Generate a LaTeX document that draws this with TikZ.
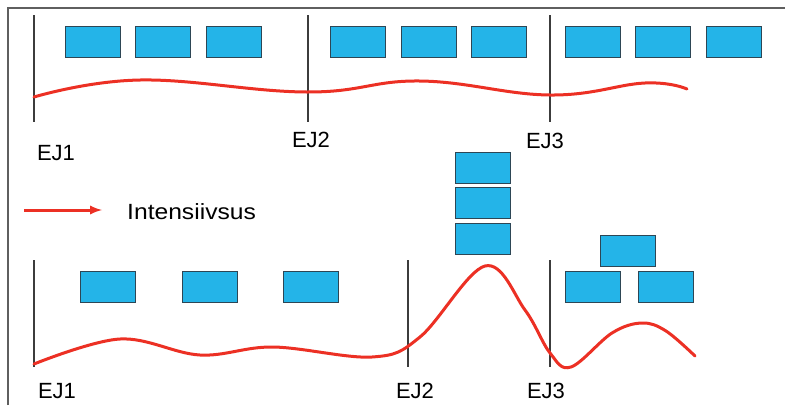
\documentclass[tikz,border=0pt]{standalone}
\usepackage{fontspec}
\setmainfont{Liberation Sans}
\usetikzlibrary{positioning, arrows}
\definecolor{boxblue}{RGB}{36,180,232}
\definecolor{boxedge}{RGB}{45,70,85}
\definecolor{curvered}{RGB}{236,48,36}
\definecolor{framegray}{RGB}{95,95,95}
\definecolor{markgray}{RGB}{60,60,60}
\tikzset{>=latex}
\tikzset{
  block/.style={draw=boxedge, fill=boxblue, line width=0.9pt,
    minimum width=55pt, minimum height=31pt, inner sep=0pt},
  divider/.style={markgray, line width=1.2pt},
  intensity/.style={curvered, line width=3pt, line cap=round},
  ejtext/.style={font=\fontsize{22}{24}\selectfont, inner sep=0pt}
}

\begin{document}
\begin{tikzpicture}[x=1pt, y=-1pt]
  \useasboundingbox (0,0) rectangle (785,405);
  % frame
  \draw[framegray, line width=1.5pt] (8,405) -- (8,8) -- (785,8);

  % upper part
  \foreach \x in {34, 308, 550}
    \draw[divider] (\x,15) -- (\x,122);
  \foreach \x [count=\i] in {92.5, 163, 233.5, 358, 428.5, 498.5, 592.5, 663, 733.5}
    \node[block] (top\i) at (\x,41.5) {};
  \draw[intensity] plot[smooth, tension=0.7] coordinates {(34,97) (140,80)
    (307,92) (420,81) (550,95) (645,83) (687,89)};
  \node[ejtext] (ej1a) at (56,153) {EJ1};
  \node[ejtext] (ej2a) at (311,140) {EJ2};
  \node[ejtext] (ej3a) at (545,141) {EJ3};

  % legend
  \coordinate (legstart) at (24,210);
  \coordinate (legend) at (102,210);
  \draw[->, curvered, line width=3pt] (legstart) -- (legend);
  \node[ejtext, anchor=west] (legtext) at (127,212)
    {\scalebox{1.12}[1]{Intensiivsus}};

  % lower part
  \foreach \x in {34, 408, 550}
    \draw[divider] (\x,260) -- (\x,367);
  \foreach \x [count=\i] in {107.5, 209.5, 311}
    \node[block] (low\i) at (\x,286.5) {};
  \foreach \y [count=\i] in {167.5, 203, 238.5}
    \node[block] (stack\i) at (483,\y) {};
  \node[block] (pyrtop) at (627.5,251) {};
  \node[block] (pyrleft) at (592.5,287) {};
  \node[block] (pyrright) at (665.5,287) {};
  \draw[intensity] plot[smooth, tension=0.6] coordinates {(34,364) (120,339)
    (200,355) (273,347) (372,357) (420,337) (485,266) (525,310)
    (550,353) (571,367) (612,333) (642,323) (666,331) (695,356)};
  \node[ejtext] (ej1b) at (57,391) {EJ1};
  \node[ejtext] (ej2b) at (415,391) {EJ2};
  \node[ejtext] (ej3b) at (546,391) {EJ3};
\end{tikzpicture}
\end{document}
